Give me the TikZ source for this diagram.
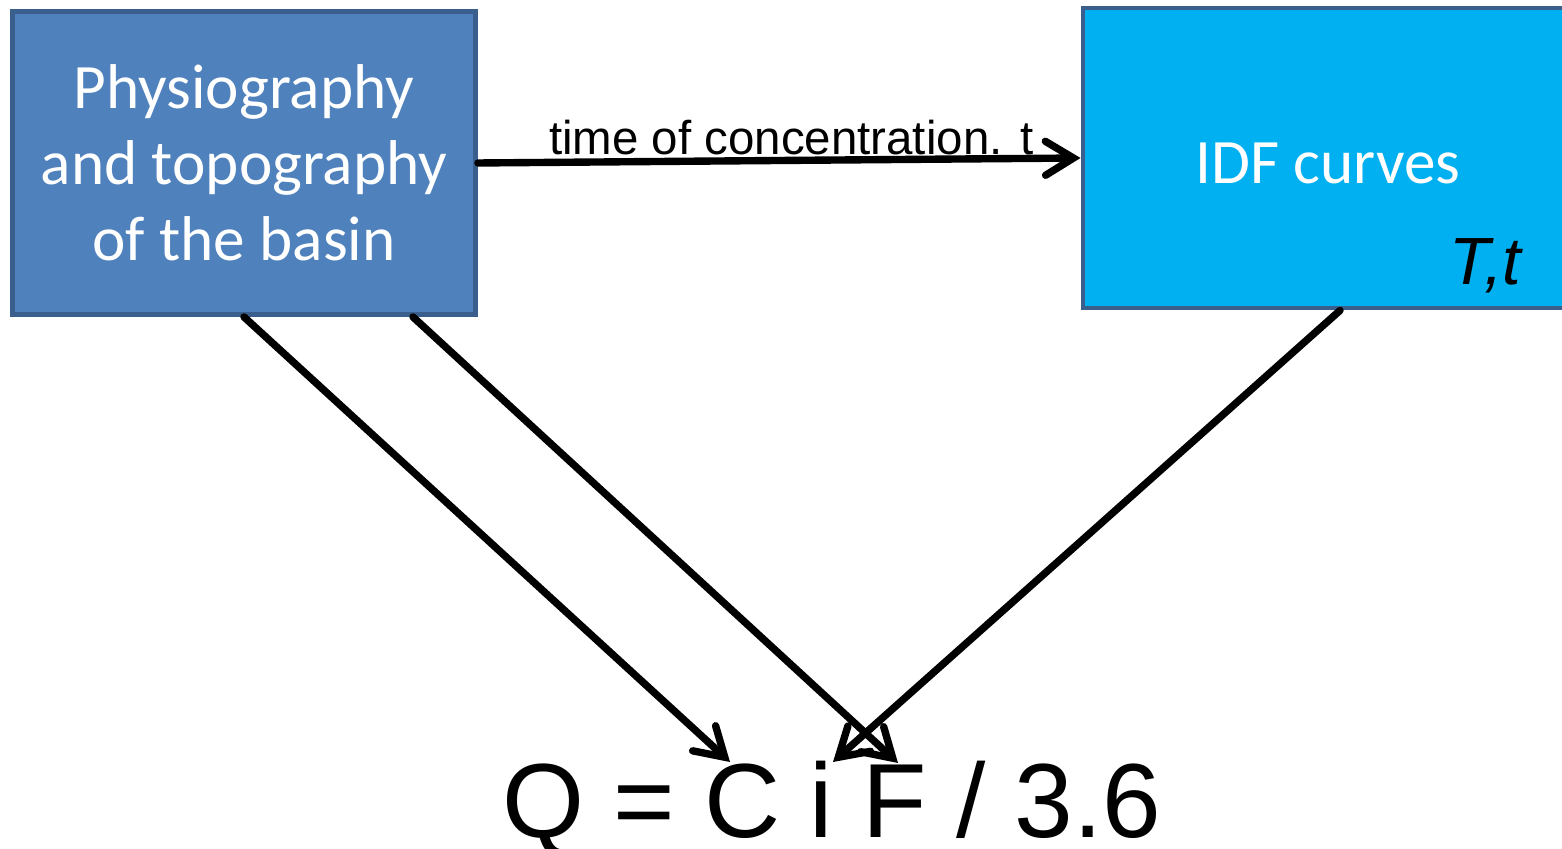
\documentclass[tikz,border=0pt]{standalone}
\usepackage{fontspec}
\setmainfont{Carlito}
\newfontfamily\arialfont{Liberation Sans}
\usepackage{tikz}
\usetikzlibrary{arrows.meta,positioning,calc}
\definecolor{basinblue}{HTML}{4F81BD}
\definecolor{idfblue}{HTML}{00B0F0}
\definecolor{edgeblue}{HTML}{3A5F8D}

\begin{document}
\begin{tikzpicture}[
  >={Straight Barb[length=2.8mm, width=3.4mm, line cap=round]},
  box/.style={draw=edgeblue, line width=1.4pt, inner sep=2pt, align=center,
              text=white, font=\fontsize{18}{21.6}\selectfont},
  flow/.style={->, line width=2.1pt, line cap=round},
  lbl/.style={font=\arialfont\fontsize{13.5}{15}\selectfont},
]
\useasboundingbox (0,0) rectangle (15.62,8.49);

% ---- boxes -----------------------------------------------------------------
\node[box, fill=basinblue, minimum width=4.63cm, minimum height=3.03cm]
  (basin) at (2.44,6.86) {Physiography\\and topography\\of the basin};
\node[box, fill=idfblue, minimum width=4.9cm, minimum height=3.0cm]
  (idf) at (13.28,6.91) {\raisebox{-0.5mm}[\height][\depth]{IDF curves}};
\node[anchor=base east, font=\arialfont\itshape\fontsize{19}{21}\selectfont]
  (Tt) at ($(idf.south east)+(-0.42,0.26)$) {T,t};

% ---- rational formula ------------------------------------------------------
\node[anchor=base, inner sep=0pt, font=\arialfont\fontsize{30}{32}\selectfont]
  (eq) at (8.32,0.11) {Q = C i F / 3.6};
\coordinate (toC) at (7.30,0.87);
\coordinate (toi) at (8.33,0.87);
\coordinate (toF) at (8.98,0.86);

% ---- connectors --------------------------------------------------------------
\draw[flow] (basin.east) -- node[lbl, above, pos=0.52, inner sep=0.5pt]
  {time of concentration. t} (idf.west);
\draw[flow] (basin.south) -- (toC);
\draw[flow] ([xshift=-6.5mm]basin.south east) -- (toF);
\draw[flow] ([xshift=1.2mm]idf.south) -- (toi);
\end{tikzpicture}
\end{document}
